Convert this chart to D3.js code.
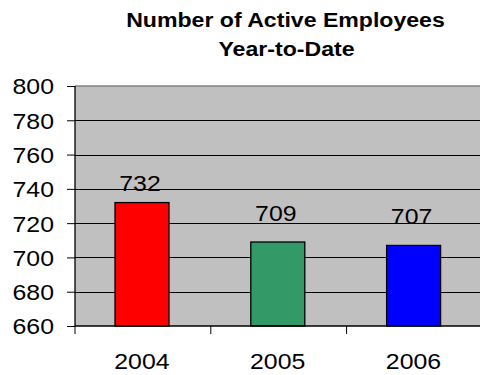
<!DOCTYPE html>
<html><head><meta charset="utf-8">
<script src="https://cdn.jsdelivr.net/npm/d3@7"></script>
<style>body{margin:0;background:#fff;} svg{display:block;font-family:"Liberation Sans",Arial,sans-serif;}</style>
</head><body>
<script>
const years = ["2004", "2005", "2006"];
const employees = [732, 709, 707];
const barColors = ["#ff0000", "#339966", "#0000ff"];
const yTicks = [660, 680, 700, 720, 740, 760, 780, 800];
const titleLines = ["Number of Active Employees", "Year-to-Date"];

const W = 480, H = 375;
const plotLeft = 75, plotRight = 482.4, plotTop = 86, plotBottom = 326;
const svg = d3.select("body").append("svg").attr("width", W).attr("height", H);

const xb = d3.scaleBand().domain(years).range([plotLeft, plotRight]);
const y = d3.scaleLinear().domain([660, 800]).range([plotBottom, plotTop]);
const SX = 1.13;

// plot background
svg.append("rect").attr("x", plotLeft).attr("y", plotTop).attr("width", W - plotLeft)
  .attr("height", plotBottom - plotTop).attr("fill", "#c0c0c0");
// top border
svg.append("line").attr("x1", plotLeft).attr("x2", W).attr("y1", plotTop).attr("y2", plotTop)
  .attr("stroke", "#808080").attr("stroke-width", 1.5);

// gridlines
svg.append("g").selectAll("line").data(yTicks.filter(d => d > 660 && d < 800)).join("line")
  .attr("x1", plotLeft).attr("x2", W)
  .attr("y1", d => Math.round(y(d)) + 0.5).attr("y2", d => Math.round(y(d)) + 0.5)
  .attr("stroke", "#000").attr("stroke-width", 1);

// bars
const bw = 54;
svg.append("g").selectAll("rect").data(years).join("rect")
  .attr("x", d => xb(d) + 40)
  .attr("y", (d, i) => y(employees[i]))
  .attr("width", bw)
  .attr("height", (d, i) => y(660) - y(employees[i]))
  .attr("fill", (d, i) => barColors[i]).attr("stroke", "#000").attr("stroke-width", 1.3);

// value labels
const labelGap = [12, 21, 21];
svg.append("g").selectAll("text").data(years).join("text")
  .attr("transform", (d, i) => `translate(${xb(d) + 40 + bw / 2 - 2},${y(employees[i]) - labelGap[i]}) scale(${SX},1)`)
  .attr("text-anchor", "middle").attr("font-size", 22).attr("fill", "#000")
  .text((d, i) => employees[i]);

// y axis
const yAxis = svg.append("g").attr("transform", `translate(${plotLeft},0)`)
  .call(d3.axisLeft(y).tickValues(yTicks).tickSize(8).tickFormat(d3.format("d")));
yAxis.selectAll("text").attr("x", null).attr("dy", "0.36em")
  .attr("transform", `translate(-21,0) scale(${SX},1)`)
  .attr("font-size", 22).attr("fill", "#000").attr("font-family", "Liberation Sans, Arial, sans-serif");
yAxis.select(".domain").attr("stroke", "#000").attr("stroke-width", 1.3).attr("d", `M0,${plotBottom}V${plotTop}`);
yAxis.selectAll(".tick line").attr("stroke", "#000");

// x axis
const xAxis = svg.append("g").attr("transform", `translate(0,${plotBottom})`)
  .call(d3.axisBottom(xb).tickSize(0));
xAxis.select(".domain").attr("stroke", "#000").attr("stroke-width", 1.3).attr("d", `M${plotLeft},0H${W}`);
xAxis.selectAll("text").attr("y", null).attr("dy", null)
  .attr("transform", `translate(-1,43) scale(${SX},1)`)
  .attr("font-size", 22).attr("fill", "#000").attr("font-family", "Liberation Sans, Arial, sans-serif");
svg.append("g").selectAll("line").data(years).join("line")
  .attr("x1", d => xb(d)).attr("x2", d => xb(d))
  .attr("y1", plotBottom).attr("y2", plotBottom + 8).attr("stroke", "#000");

// title
svg.append("g").selectAll("text").data(titleLines).join("text")
  .attr("transform", (d, i) => `translate(${285.5 + i},${27 + i * 29}) scale(1.1,1)`)
  .attr("text-anchor", "middle").attr("font-size", 21).attr("font-weight", "bold").attr("fill", "#000")
  .text(d => d);
</script>
</body></html>
